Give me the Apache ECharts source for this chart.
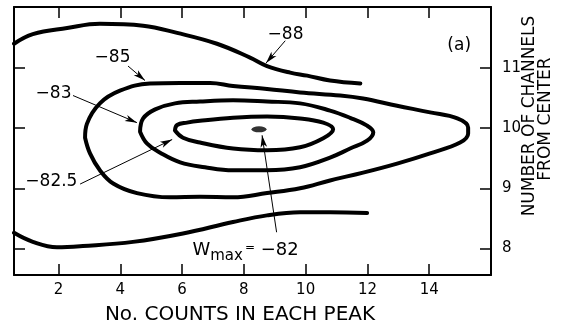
<!DOCTYPE html>
<html><head><meta charset="utf-8">
<script src="https://cdn.jsdelivr.net/npm/echarts@6/dist/echarts.min.js"></script>
<style>html,body{margin:0;padding:0;background:#fff}#c{width:563px;height:327px}</style>
</head><body><div id="c"></div>
<script>
// ---- data ----
const xTicks = [2, 4, 6, 8, 10, 12, 14];
const yTicks = [8, 9, 10, 11];
const xName = 'No. COUNTS IN EACH PEAK';
const yName1 = 'NUMBER OF CHANNELS';
const yName2 = 'FROM CENTER';

const c88upper = [[0.56,11.40],[1.17,11.56],[2.28,11.66],[3.34,11.73],[4.74,11.70],[5.84,11.58],[7.13,11.40],[8.20,11.17],[8.75,11.03],[9.50,10.92],[10.05,10.87],[10.79,10.79],[11.77,10.74]];
const c88lower = [[0.56,8.26],[1.17,8.11],[1.95,8.02],[2.79,8.04],[4.41,8.11],[6.03,8.25],[7.65,8.44],[8.75,8.55],[9.82,8.60],[10.79,8.60],[11.99,8.59]];
const c85 = [[2.86,9.84],[2.92,10.07],[3.34,10.41],[3.99,10.62],[4.96,10.74],[5.94,10.75],[6.91,10.75],[7.65,10.70],[8.75,10.65],[9.82,10.59],[11.12,10.54],[11.86,10.49],[12.96,10.37],[14.03,10.26],[14.91,10.16],[15.26,10.01],[15.26,9.91],[15.00,9.76],[14.03,9.58],[12.96,9.41],[11.86,9.26],[10.79,9.13],[9.82,9.00],[8.75,8.92],[7.65,8.85],[6.58,8.86],[5.61,8.85],[4.54,8.92],[3.77,9.08],[3.34,9.30],[3.02,9.58],[2.86,9.84]];
const c83 = [[4.64,9.94],[4.74,10.16],[5.13,10.31],[5.77,10.41],[6.58,10.44],[7.65,10.46],[8.75,10.44],[9.82,10.41],[10.79,10.29],[11.44,10.17],[11.99,10.04],[12.19,9.93],[11.99,9.79],[11.44,9.66],[10.79,9.51],[9.82,9.35],[8.75,9.30],[7.65,9.30],[6.74,9.35],[5.94,9.43],[5.29,9.59],[4.87,9.74],[4.64,9.94]];
const c825 = [[5.77,9.96],[5.84,10.05],[6.16,10.09],[6.58,10.12],[7.65,10.17],[8.75,10.19],[9.82,10.16],[10.57,10.09],[10.89,9.98],[10.57,9.83],[9.82,9.68],[8.75,9.63],[7.65,9.66],[6.58,9.76],[6.03,9.84],[5.77,9.96]];
const wmaxPoint = [[8.49, 9.98]];

const labelTexts = ['\u221288', '\u221285', '\u221283', '\u221282.5', '(a)'];
const labelX = [9.35, 3.75, 1.84, 1.77, 14.97];
const labelY = [11.56, 11.17, 10.58, 9.11, 11.37];
const wmaxLabelPos = [6.32, 7.93];

const arrowFrom = [[9.34,11.45],[4.25,11.03],[2.47,10.54],[2.70,9.07],[9.06,8.27]];
const arrowTo   = [[8.72,11.08],[4.80,10.79],[4.54,10.09],[5.68,9.81],[8.59,9.88]];

// ---- chart ----
const FONT = 'DejaVu Sans';
const chart = echarts.init(document.getElementById('c'), null, {renderer: 'canvas'});

function contour(data) {
  return {
    type: 'line', data: data, smooth: 0.4, symbol: 'none', silent: true,
    lineStyle: {color: '#000', width: 4, cap: 'round', join: 'round'},
    xAxisIndex: 0, yAxisIndex: 0, z: 3
  };
}
function xAx(pos, showLabel) {
  return {
    type: 'value', position: pos, min: 0.56, max: 16,
    axisLine: {show: true, onZero: false, lineStyle: {color: '#000', width: 2}},
    axisTick: {show: true, inside: true, length: 11, customValues: xTicks, lineStyle: {color: '#000', width: 1.5}},
    axisLabel: {show: showLabel, customValues: xTicks, color: '#000', fontSize: 15, margin: 8, fontFamily: FONT},
    splitLine: {show: false}
  };
}
function yAx(pos, showLabel) {
  return {
    type: 'value', position: pos, min: 7.56, max: 12.01,
    axisLine: {show: true, onZero: false, lineStyle: {color: '#000', width: 2}},
    axisTick: {show: true, inside: true, length: 11, customValues: yTicks, lineStyle: {color: '#000', width: 1.5}},
    axisLabel: {show: showLabel, customValues: yTicks, color: '#000', fontSize: 15, margin: 11, fontFamily: FONT},
    splitLine: {show: false}
  };
}

const arrowData = arrowFrom.map((f, i) => [{coord: f}, {coord: arrowTo[i]}]);
const labelData = labelTexts.map((t, i) => ({name: t, coord: [labelX[i], labelY[i]]}));

chart.setOption({
  animation: false,
  backgroundColor: '#fff',
  grid: {left: 14, right: 72, top: 7, bottom: 52, containLabel: false},
  xAxis: [xAx('bottom', true), xAx('top', false)],
  yAxis: [yAx('right', true), yAx('left', false)],
  series: [
    contour(c88upper), contour(c88lower), contour(c85), contour(c83), contour(c825),
    {
      type: 'scatter', data: wmaxPoint, symbol: 'circle', symbolSize: [15, 6], silent: true,
      itemStyle: {color: '#000'}, z: 4,
      markLine: {
        silent: true, symbol: ['none', 'arrow'], symbolSize: [5, 12], animation: false,
        lineStyle: {color: '#000', width: 1, type: 'solid'},
        label: {show: false}, emphasis: {disabled: true},
        data: arrowData
      },
      markPoint: {
        silent: true, animation: false,
        symbol: 'circle', symbolSize: 1, itemStyle: {color: 'rgba(0,0,0,0)'},
        label: {show: true, position: 'inside', color: '#000', fontSize: 17, fontFamily: FONT, formatter: p => p.name},
        data: labelData.concat([{
          name: 'wmax', coord: wmaxLabelPos,
          label: {
            position: 'right', distance: 0,
            formatter: '{w|W}{s|max}{e|=}{v| \u221282}',
            rich: {
              w: {fontSize: 18, fontFamily: FONT, color: '#000', verticalAlign: 'top', lineHeight: 22},
              s: {fontSize: 15, fontFamily: FONT, color: '#000', verticalAlign: 'bottom', lineHeight: 22, padding: [10, 0, 0, 0]},
              e: {fontSize: 12, fontFamily: FONT, color: '#000', verticalAlign: 'top', lineHeight: 22, padding: [0, 0, 0, 2]},
              v: {fontSize: 18, fontFamily: FONT, color: '#000', verticalAlign: 'top', lineHeight: 22}
            }
          }
        }])
      }
    }
  ],
  graphic: [
    {type: 'text', x: 240, y: 315, style: {text: xName, fontSize: 20, fontFamily: FONT, fill: '#000', align: 'center', verticalAlign: 'middle'}},
    {type: 'text', x: 530, y: 116, rotation: Math.PI / 2, style: {text: yName1, fontSize: 17, fontFamily: FONT, fill: '#000', align: 'center', verticalAlign: 'middle'}},
    {type: 'text', x: 546, y: 119, rotation: Math.PI / 2, style: {text: yName2, fontSize: 17, fontFamily: FONT, fill: '#000', align: 'center', verticalAlign: 'middle'}}
  ]
});
</script>
</body></html>
